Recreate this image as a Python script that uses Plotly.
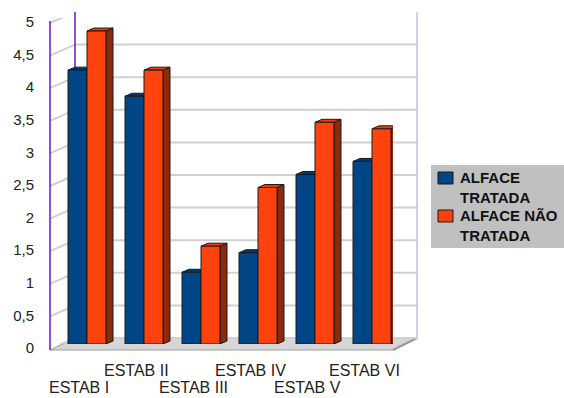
import plotly.graph_objects as go

# ---- data ----
categories = ["ESTAB I", "ESTAB II", "ESTAB III", "ESTAB IV", "ESTAB V", "ESTAB VI"]
tratada = [4.2, 3.8, 1.1, 1.4, 2.6, 2.8]
nao_tratada = [4.8, 4.2, 1.5, 2.4, 3.4, 3.3]
series_names = ["ALFACE<br>TRATADA", "ALFACE NÃO<br>TRATADA"]
y_ticks = [0, 0.5, 1, 1.5, 2, 2.5, 3, 3.5, 4, 4.5, 5]
y_tick_labels = ["0", "0,5", "1", "1,5", "2", "2,5", "3", "3,5", "4", "4,5", "5"]

# ---- page geometry (pixels) ----
W, H = 564, 398
ML, MR, MT, MB = 50, 147, 12, 48
PW, PH = W - ML - MR, H - MT - MB


def px_x(px):
    return (px - ML) / PW


def px_y(py):
    return (H - MB - py) / PH


FONT = "Liberation Sans, Arial, sans-serif"
BLUE, BLUE_TOP, BLUE_SIDE = "#004586", "#003a72", "#002a55"
ORANGE, ORANGE_TOP, ORANGE_SIDE = "#ff420e", "#f23a08", "#8e2a0c"
EDGE = "#1a1a1a"
GRID = "#d0d0d0"
PURPLE = "#7a10c0"

# bar scale (mid depth): value 0 at y=344 px, value 5 at y=18 px
y0_px, y5_px = 344, 18
y_unit_px = (y0_px - y5_px) / 5.0
# category spacing 57 px, first group centred at x=87 px, front edge 50..393 px
x_unit_px = 57.0
x_left = (ML - 87) / x_unit_px
x_right = x_left + (393 - ML) / x_unit_px

bar_w = 1.0 / 3.0
depth_dx = 7 / x_unit_px      # oblique depth of the bar blocks
depth_dy = 3 / y_unit_px

fig = go.Figure()
idx = list(range(len(categories)))
fig.add_trace(go.Bar(x=idx, y=tratada, name=series_names[0],
                     marker=dict(color=BLUE, line=dict(color=EDGE, width=1))))
fig.add_trace(go.Bar(x=idx, y=nao_tratada, name=series_names[1],
                     marker=dict(color=ORANGE, line=dict(color=EDGE, width=1))))

shapes = []

# floor
floor = (f"M{px_x(50)},{px_y(350)} L{px_x(393)},{px_y(350)} "
         f"L{px_x(417)},{px_y(338)} L{px_x(75)},{px_y(338)} Z")
shapes.append(dict(type="path", xref="paper", yref="paper", path=floor,
                   fillcolor="#d6d6d6", line=dict(color="#a0a0a0", width=1),
                   layer="below"))
# darker slanted right edge of the floor
shapes.append(dict(type="line", xref="paper", yref="paper",
                   x0=px_x(393), y0=px_y(350), x1=px_x(417), y1=px_y(338),
                   line=dict(color="#9a9a9a", width=2.5), layer="below"))

# back wall gridlines and side-wall diagonals
for v in y_ticks:
    shapes.append(dict(type="line", xref="paper", yref="y", ysizemode="pixel",
                       yanchor=v, x0=px_x(75), x1=px_x(417), y0=6, y1=6,
                       line=dict(color=GRID, width=2), layer="below"))
    shapes.append(dict(type="line", xref="paper", yref="y", ysizemode="pixel",
                       yanchor=v, x0=0, x1=px_x(75), y0=-5, y1=6,
                       line=dict(color=GRID, width=2), layer="below"))

# wall edges
shapes.append(dict(type="line", xref="paper", yref="paper",
                   x0=px_x(75), x1=px_x(75), y0=px_y(338), y1=px_y(12),
                   line=dict(color=PURPLE, width=1.5), layer="below"))
shapes.append(dict(type="line", xref="paper", yref="paper",
                   x0=px_x(417), x1=px_x(417), y0=px_y(338), y1=px_y(12),
                   line=dict(color="#d2b8e2", width=1.5), layer="below"))
shapes.append(dict(type="line", xref="paper", yref="paper",
                   x0=0, x1=0, y0=px_y(350), y1=px_y(21),
                   line=dict(color=PURPLE, width=1.5), layer="above"))


def block_faces(xl, xr, v, top_col, side_col):
    top = (f"M{xl},{v} L{xr},{v} L{xr + depth_dx},{v + depth_dy} "
           f"L{xl + depth_dx},{v + depth_dy} Z")
    side = (f"M{xr},0 L{xr + depth_dx},{depth_dy} L{xr + depth_dx},{v + depth_dy} "
            f"L{xr},{v} Z")
    out = []
    for p, c in ((side, side_col), (top, top_col)):
        out.append(dict(type="path", xref="x", yref="y", path=p, fillcolor=c,
                        line=dict(color=EDGE, width=1), layer="between"))
    return out


for i in idx:
    shapes += block_faces(i - bar_w, i, tratada[i], BLUE_TOP, BLUE_SIDE)
    shapes += block_faces(i, i + bar_w, nao_tratada[i], ORANGE_TOP, ORANGE_SIDE)

# legend box
shapes.append(dict(type="rect", xref="paper", yref="paper",
                   x0=px_x(431), x1=px_x(564), y0=px_y(248), y1=px_y(165),
                   fillcolor="#c0c0c0", line=dict(width=0), layer="above"))
for col, top in ((BLUE, 172), (ORANGE, 210)):
    shapes.append(dict(type="rect", xref="paper", yref="paper",
                       x0=px_x(438), x1=px_x(453), y0=px_y(top + 12), y1=px_y(top),
                       fillcolor=col, line=dict(color=EDGE, width=1), layer="above"))

annotations = []
for name, cy in zip(series_names, (187, 225)):
    annotations.append(dict(text=f"<b>{name}</b>", xref="paper", yref="paper",
                            x=px_x(458), y=px_y(cy), xanchor="left", yanchor="middle",
                            align="left", showarrow=False,
                            font=dict(family=FONT, size=15, color="#111111")))

# staggered category labels
for i, cat in enumerate(categories):
    row_y = 370 if i % 2 else 388
    annotations.append(dict(text=cat, xref="x", yref="paper", x=i, xshift=-8,
                            y=px_y(row_y), yanchor="middle", showarrow=False,
                            font=dict(family=FONT, size=16, color="#222222")))

fig.update_layout(
    width=W, height=H,
    margin=dict(l=ML, r=MR, t=MT, b=MB, autoexpand=False),
    paper_bgcolor="white", plot_bgcolor="rgba(0,0,0,0)",
    barmode="group", bargap=1 / 3, bargroupgap=0,
    showlegend=False,
    shapes=shapes, annotations=annotations,
    xaxis=dict(range=[x_left, x_right], domain=[0, px_x(393)],
               showticklabels=False, showgrid=False, zeroline=False,
               showline=False, fixedrange=True, automargin=False),
    yaxis=dict(range=[0, 5], domain=[px_y(y0_px), px_y(y5_px)],
               tickvals=y_ticks, ticktext=y_tick_labels, ticks="",
               ticklabelstandoff=15, ticklabelshift=4,
               showgrid=False, zeroline=False, showline=False, automargin=False,
               tickfont=dict(family=FONT, size=15, color="#222222")),
    font=dict(family=FONT),
)

fig.write_html("out.html")
